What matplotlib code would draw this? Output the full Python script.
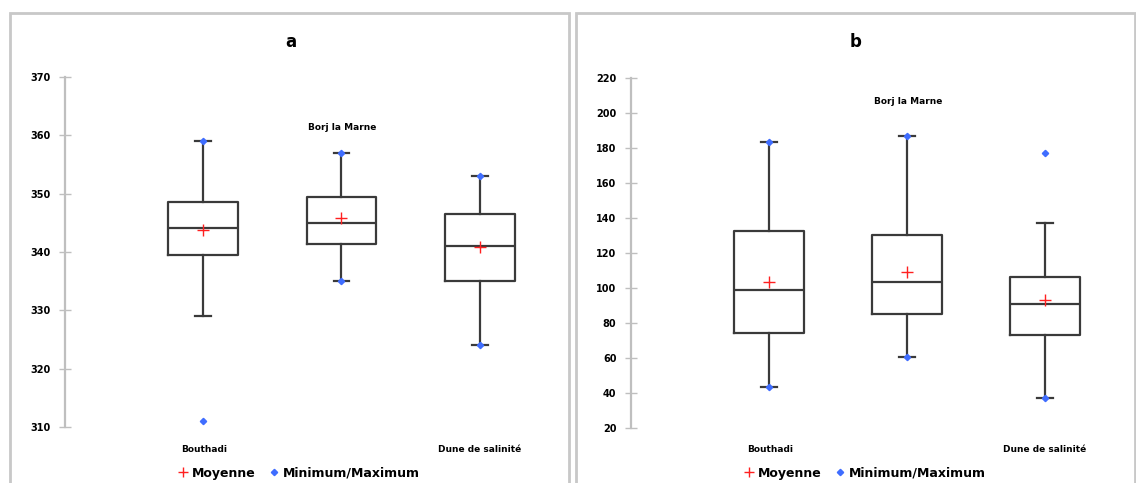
import matplotlib
matplotlib.use("Agg")
import matplotlib.pyplot as plt
from matplotlib.patches import Rectangle
from matplotlib.lines import Line2D

categories = ["Bouthadi", "Borj la Marne", "Dune de salinité"]

# Panel a
a_q1 = [339.5, 341.4, 335.1]
a_med = [344.1, 345.0, 341.0]
a_q3 = [348.6, 349.5, 346.5]
a_whislo = [329, 335, 324]
a_whishi = [359, 357, 353]
a_mean = [343.7, 345.8, 340.8]
a_min = [311, 335, 324]
a_max = [359, 357, 353]
a_yticks = [310, 320, 330, 340, 350, 360, 370]

# Panel b
b_q1 = [73.9, 85.1, 73.0]
b_med = [98.5, 103.4, 90.7]
b_q3 = [132.4, 130.0, 105.9]
b_whislo = [43.4, 60.2, 37.1]
b_whishi = [183.4, 186.9, 137.0]
b_mean = [103.3, 109.1, 93.0]
b_min = [43.4, 60.2, 37.1]
b_max = [183.4, 186.9, 177.1]
b_yticks = [20, 40, 60, 80, 100, 120, 140, 160, 180, 200, 220]

W, H = 1136, 483
fig = plt.figure(figsize=(W / 100, H / 100), dpi=100)

BOX_C = "#3a3a3a"
BLUE = "#3f6dff"
RED = "#ff2020"
AXC = "#bfbfbf"


def fx(px):
    return px / W


def fy(py):
    return 1 - py / H


def panel(left_px, right_px, y_top_px, y_bot_px, yticks, q1, med, q3, wlo, whi,
          mean, mn, mx):
    ax = fig.add_axes([fx(left_px), fy(y_bot_px), fx(right_px - left_px),
                       (y_bot_px - y_top_px) / H])
    stats = []
    for i in range(len(categories)):
        stats.append(dict(med=med[i], q1=q1[i], q3=q3[i], whislo=wlo[i],
                          whishi=whi[i], mean=mean[i], fliers=[], label=categories[i]))
    pos = [1, 2, 3]
    ax.bxp(stats, positions=pos, widths=0.505, capwidths=0.11, showmeans=True,
           showfliers=False,
           boxprops=dict(color=BOX_C, linewidth=1.6),
           medianprops=dict(color=BOX_C, linewidth=1.6),
           whiskerprops=dict(color=BOX_C, linewidth=1.6),
           capprops=dict(color=BOX_C, linewidth=1.6),
           meanprops=dict(marker="+", markeredgecolor=RED, markersize=9,
                          markeredgewidth=1.0))
    ax.plot(pos, mn, linestyle="none", marker="D", markersize=3.2,
            color=BLUE, zorder=5)
    ax.plot(pos, mx, linestyle="none", marker="D", markersize=3.2,
            color=BLUE, zorder=5)
    ax.set_ylim(yticks[0], yticks[-1])
    ax.set_yticks(yticks)
    ax.set_yticklabels([str(t) for t in yticks], fontsize=7, fontweight="bold")
    ax.set_xticks([])
    for s in ["top", "right", "bottom"]:
        ax.spines[s].set_visible(False)
    ax.spines["left"].set_color(AXC)
    ax.spines["left"].set_linewidth(1.6)
    ax.tick_params(axis="y", direction="inout", length=9, width=1, color=AXC,
                   pad=6)
    return ax


sp = 138.5
ax_a = panel(65, 560, 77, 427, a_yticks, a_q1, a_med, a_q3, a_whislo, a_whishi,
             a_mean, a_min, a_max)
ax_a.set_xlim(1 - (203 - 65) / sp, 1 + (560 - 203) / sp)

ax_b = panel(631, 1120, 77.7, 427.7, b_yticks, b_q1, b_med, b_q3, b_whislo,
             b_whishi, b_mean, b_min, b_max)
ax_b.set_xlim(1 - (769 - 631) / 138.0, 1 + (1120 - 769) / 138.0)

# panel borders
for l, r in [(10, 569), (576, 1135)]:
    fig.patches.append(Rectangle((fx(l), fy(H + 5)), fx(r - l), (H + 5 - 13) / H,
                                 transform=fig.transFigure, fill=False,
                                 edgecolor="#c8c8c8", linewidth=2))

# titles
fig.text(fx(291), fy(42), "a", fontsize=12, fontweight="bold", ha="center", va="center")
fig.text(fx(856), fy(42), "b", fontsize=12, fontweight="bold", ha="center", va="center")

# category labels
lab_kw = dict(fontsize=6.5, fontweight="bold", ha="center", va="center")
fig.text(fx(204), fy(449), categories[0], **lab_kw)
fig.text(fx(342), fy(128), categories[1], **lab_kw)
fig.text(fx(480), fy(449), categories[2], **lab_kw)
fig.text(fx(770), fy(449), categories[0], **lab_kw)
fig.text(fx(908), fy(102), categories[1], **lab_kw)
fig.text(fx(1045), fy(449), categories[2], **lab_kw)

# legends
handles = [Line2D([], [], linestyle="none", marker="+", markeredgecolor=RED,
                  markersize=7, markeredgewidth=1.0),
           Line2D([], [], linestyle="none", marker="D", markersize=3.2, color=BLUE)]
labels = ["Moyenne", "Minimum/Maximum"]
for x0 in [179, 745]:
    fig.legend(handles, labels, loc="center left", bbox_to_anchor=(fx(x0), fy(473)),
               ncol=2, frameon=False, prop=dict(size=9, weight="bold"),
               handlelength=0.6, handletextpad=0.4, columnspacing=1.2,
               borderpad=0, borderaxespad=0)

fig.savefig("out.png", dpi=100)
